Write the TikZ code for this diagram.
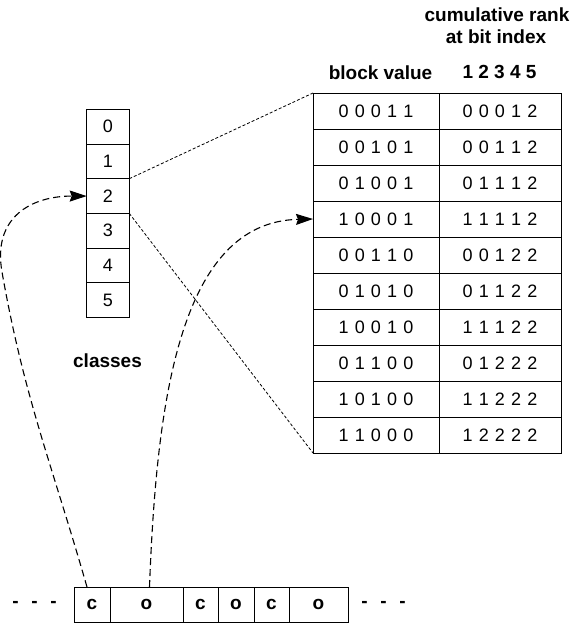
\documentclass[tikz,border=0pt]{standalone}
\usepackage{fontspec}
\setmainfont{Liberation Sans}
\usetikzlibrary{arrows.meta}
\newcommand{\digsp}{\spaceskip=6.2pt\relax}
\newcommand{\dotsp}{\spaceskip=12.7pt\relax}
\tikzset{
  cellbox/.style={draw, line width=0.9pt, rectangle, inner sep=0pt, outer sep=0pt},
  digits/.style={font=\fontsize{18}{20}\selectfont, execute at begin node=\digsp},
  plain/.style={font=\fontsize{18}{20}\selectfont},
  boldtxt/.style={font=\fontsize{19}{22}\selectfont\bfseries, inner sep=0pt},
  fine/.style={line width=0.8pt, dash pattern=on 3pt off 2pt},
  curvy/.style={line width=1.1pt, dash pattern=on 7pt off 4pt,
    -{Stealth[length=17pt,width=11pt,inset=2pt]}},
  dotsty/.style={font=\fontsize{19}{22}\selectfont\bfseries, execute at begin node=\dotsp, inner sep=0pt}
}
\begin{document}
\begin{tikzpicture}[x=1pt,y=-1pt]
\useasboundingbox (0,0) rectangle (577,624);
% headers
\node[boldtxt, anchor=base] (hdr1) at (497,21) {cumulative rank};
\node[boldtxt, anchor=base] (hdr2) at (496,43) {at bit index};
\node[boldtxt, anchor=base] (hdrbv) at (380.5,79) {block value};
\node[boldtxt, anchor=base] (hdrcr) at (499.5,78) {1 2 3 4 5};
% table
\foreach \i/\a/\b in {1/0 0 0 1 1/0 0 0 1 2, 2/0 0 1 0 1/0 0 1 1 2, 3/0 1 0 0 1/0 1 1 1 2,
  4/1 0 0 0 1/1 1 1 1 2, 5/0 0 1 1 0/0 0 1 2 2, 6/0 1 0 1 0/0 1 1 2 2,
  7/1 0 0 1 0/1 1 1 2 2, 8/0 1 1 0 0/0 1 2 2 2, 9/1 0 1 0 0/1 1 2 2 2, 10/1 1 0 0 0/1 2 2 2 2}{
  \pgfmathsetmacro{\yy}{93+36*\i-18}
  \node[cellbox, digits, minimum width=126pt, minimum height=36pt] (bv\i) at (376, \yy) {\a};
  \node[cellbox, digits, minimum width=122pt, minimum height=36pt] (cr\i) at (500, \yy) {\b};
}
% classes
\foreach \i in {0,...,5}{
  \pgfmathsetmacro{\yy}{109.3+34.7*\i+17.35}
  \node[cellbox, plain, minimum width=42.6pt, minimum height=34.7pt] (cls\i) at (108, \yy) {\i};
}
\node[boldtxt, anchor=base] (classes) at (107.5,367) {classes};
% bottom array
\node[cellbox, boldtxt, minimum width=36pt, minimum height=35pt] (b1) at (92,604.5) {c};
\node[cellbox, boldtxt, minimum width=73pt, minimum height=35pt] (b2) at (146.5,604.5) {o};
\node[cellbox, boldtxt, minimum width=35pt, minimum height=35pt] (b3) at (200.5,604.5) {c};
\node[cellbox, boldtxt, minimum width=36pt, minimum height=35pt] (b4) at (236,604.5) {o};
\node[cellbox, boldtxt, minimum width=35pt, minimum height=35pt] (b5) at (271.5,604.5) {c};
\node[cellbox, boldtxt, minimum width=59pt, minimum height=35pt] (b6) at (318.5,604.5) {o};
\node[dotsty] (dotsL) at (34.5,604.5) {- - -};
\node[dotsty] (dotsR) at (383.5,604.5) {- - -};
% connectors
\draw[fine] (cls2.north east) -- (bv1.north west);
\draw[fine] (cls2.south east) -- (bv10.south west);
\coordinate (cL) at (2,272);
\draw[curvy] ([xshift=-5pt]b1.north) to[out=106,in=-80] (cL) to[out=100,in=180,looseness=1.25] (cls2.west);
\draw[curvy] ([xshift=3pt]b2.north) .. controls +(7,-187) and +(-133,3) .. (bv4.west);
\end{tikzpicture}
\end{document}
